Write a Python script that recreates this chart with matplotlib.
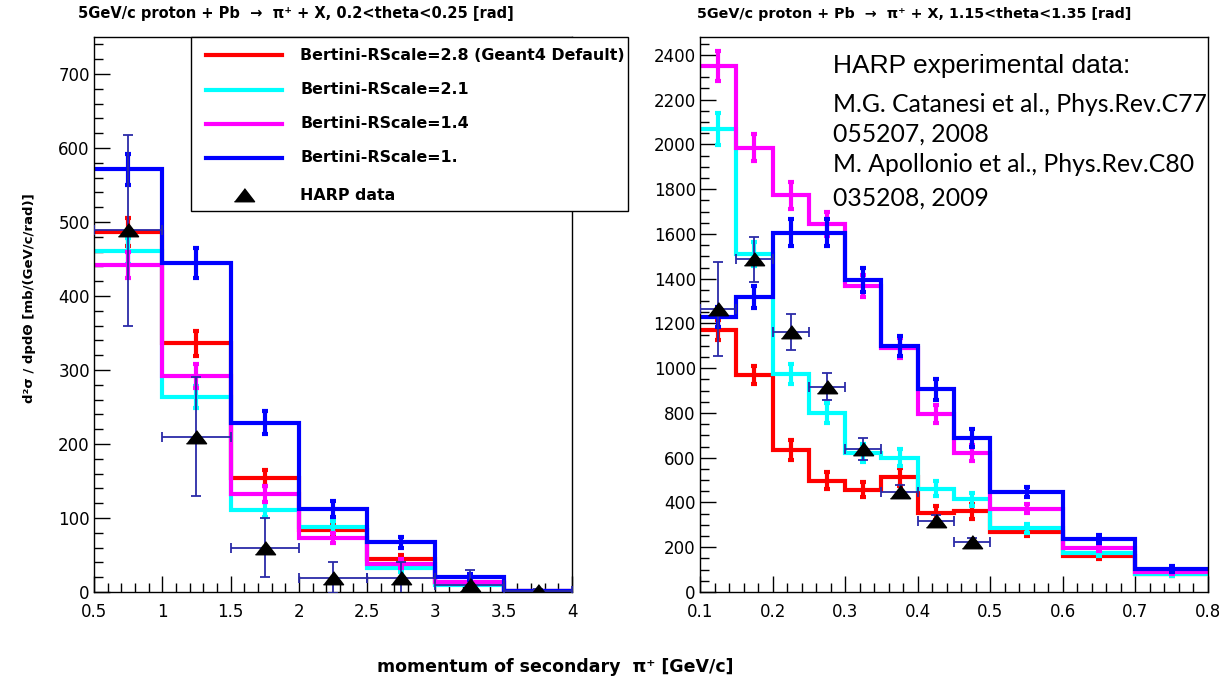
import matplotlib
matplotlib.use("Agg")
import matplotlib.pyplot as plt
from matplotlib.lines import Line2D
from matplotlib.patches import Rectangle
from matplotlib.ticker import MultipleLocator

# ---------------- data ----------------
edges_left = [0.5, 1.0, 1.5, 2.0, 2.5, 3.0, 3.5, 4.0]
red_left = [487, 336, 154, 84, 44, 12, 1]
cyan_left = [461, 264, 111, 88, 32, 10, 1]
magenta_left = [442, 292, 132, 73, 38, 14, 1]
blue_left = [571, 445, 229, 112, 67, 20, 1]
red_left_err = [19, 17, 11, 8, 6, 4, 1]
cyan_left_err = [18, 15, 10, 8, 5, 3, 1]
magenta_left_err = [18, 16, 11, 7, 6, 4, 1]
blue_left_err = [21, 20, 15, 11, 8, 4, 1]

harp_left_x = [0.75, 1.25, 1.75, 2.25, 2.75, 3.25, 3.75]
harp_left_y = [489, 210, 60, 19, 19, 10, 2]
harp_left_yerr = [129, 80, 40, 21, 22, 20, 2]
harp_left_xerr = [0.25, 0.25, 0.25, 0.25, 0.25, 0.25, 0.25]

edges_right = [0.1, 0.15, 0.2, 0.25, 0.3, 0.35, 0.4, 0.45, 0.5, 0.6, 0.7, 0.8]
red_right = [1170, 970, 635, 497, 458, 515, 353, 360, 268, 161, 80]
cyan_right = [2070, 1510, 975, 800, 620, 600, 462, 414, 285, 173, 79]
magenta_right = [2350, 1985, 1772, 1645, 1368, 1092, 797, 620, 371, 198, 88]
blue_right = [1230, 1318, 1605, 1605, 1395, 1100, 905, 690, 448, 235, 103]
red_right_err = [45, 40, 45, 37, 35, 40, 32, 32, 18, 12, 8]
cyan_right_err = [71, 55, 45, 45, 40, 37, 32, 30, 20, 14, 8]
magenta_right_err = [67, 60, 60, 55, 50, 45, 40, 35, 20, 14, 8]
blue_right_err = [45, 50, 60, 60, 55, 45, 48, 40, 22, 18, 13]

harp_right_x = [0.125, 0.175, 0.225, 0.275, 0.325, 0.375, 0.425, 0.475]
harp_right_y = [1265, 1487, 1163, 918, 639, 448, 319, 222]
harp_right_yerr = [210, 100, 80, 60, 50, 30, 25, 20]
harp_right_xerr = [0.025] * 8

legend_labels = ["Bertini-RScale=2.8 (Geant4 Default)", "Bertini-RScale=2.1",
                 "Bertini-RScale=1.4", "Bertini-RScale=1.", "HARP data"]
colors = ["#ff0000", "#00ffff", "#ff00ff", "#0000ff"]

title_left = "5GeV/c proton + Pb  \u2192  \u03c0\u207a + X, 0.2<theta<0.25 [rad]"
title_right = "5GeV/c proton + Pb  \u2192  \u03c0\u207a + X, 1.15<theta<1.35 [rad]"
xlabel = "momentum of secondary  \u03c0\u207a [GeV/c]"
ylabel = "d\u00b2\u03c3 / dpd\u0398 [mb/(GeV/c/rad)]"
harp_lines = ["M.G. Catanesi et al., Phys.Rev.C77", "055207, 2008",
              "M. Apollonio et al., Phys.Rev.C80", "035208, 2009"]

# ---------------- figure ----------------
W, H = 1222, 679
fig = plt.figure(figsize=(W / 100, H / 100), dpi=100)
fig.patch.set_facecolor("white")
FONT = "DejaVu Sans"


def px_axes(x0, y0, x1, y1):
    return fig.add_axes([x0 / W, 1 - y1 / H, (x1 - x0) / W, (y1 - y0) / H])


axL = px_axes(94, 37, 572, 592)
axR = px_axes(700, 37, 1208, 592)

tri = [(-1.0, -0.62), (1.0, -0.62), (0.0, 0.68)]
err_col = "#2b2ba8"


def draw(ax, edges, series, errs, hx, hy, hxe, hye):
    centers = [(a + b) / 2 for a, b in zip(edges[:-1], edges[1:])]
    for vals, e, c in zip(series, errs, colors):
        ax.stairs(vals, edges, baseline=None, color=c, lw=3.0, zorder=2)
        ax.errorbar(centers, vals, yerr=e, fmt="none", ecolor=c, elinewidth=3.0,
                    capsize=2.5, capthick=3.0, zorder=2)
    ax.errorbar(hx, hy, xerr=hxe, yerr=hye, fmt="none", ecolor=err_col,
                elinewidth=1.3, capsize=3.5, capthick=1.3, zorder=3)
    ax.plot(hx, hy, ls="none", marker=tri, ms=14.5, color="black", zorder=4)
    for sp in ax.spines.values():
        sp.set_linewidth(1.0)
        sp.set_color("black")
    ax.tick_params(which="both", direction="in", top=False, right=False,
                   width=1.0, labelsize=12)
    ax.tick_params(which="major", length=11.5)
    ax.tick_params(which="minor", length=6.5)
    ax.tick_params(axis="x", pad=8)
    ax.tick_params(axis="y", pad=3)


draw(axL, edges_left, [red_left, cyan_left, magenta_left, blue_left],
     [red_left_err, cyan_left_err, magenta_left_err, blue_left_err],
     harp_left_x, harp_left_y, harp_left_xerr, harp_left_yerr)
axL.set_xlim(0.5, 4.0)
axL.set_ylim(0, 750)
axL.xaxis.set_minor_locator(MultipleLocator(0.1))
axL.yaxis.set_major_locator(MultipleLocator(100))
axL.yaxis.set_minor_locator(MultipleLocator(20))
axL.set_xticks([0.5, 1, 1.5, 2, 2.5, 3, 3.5, 4])
axL.set_xticklabels(["0.5", "1", "1.5", "2", "2.5", "3", "3.5", "4"])

draw(axR, edges_right, [red_right, cyan_right, magenta_right, blue_right],
     [red_right_err, cyan_right_err, magenta_right_err, blue_right_err],
     harp_right_x, harp_right_y, harp_right_xerr, harp_right_yerr)
axR.set_xlim(0.1, 0.8)
axR.set_ylim(0, 2480)
axR.xaxis.set_major_locator(MultipleLocator(0.1))
axR.xaxis.set_minor_locator(MultipleLocator(0.02))
axR.yaxis.set_major_locator(MultipleLocator(200))
axR.yaxis.set_minor_locator(MultipleLocator(50))

for ax in (axL, axR):
    for lab in ax.get_xticklabels() + ax.get_yticklabels():
        lab.set_family(FONT)

# ---------------- texts ----------------
def ftext(x, y, s, **kw):
    return fig.text(x / W, 1 - y / H, s, **kw)


ftext(78, 18, title_left, ha="left", va="baseline", family=FONT,
      weight="bold", fontsize=10.5)
ftext(697, 18, title_right, ha="left", va="baseline", family=FONT,
      weight="bold", fontsize=10.3)
ftext(555, 667, xlabel, ha="center", va="center", family=FONT,
      weight="bold", fontsize=12.5)
ftext(30, 298, ylabel, ha="center", va="center", rotation=90, family=FONT,
      weight="bold", fontsize=9.5)

ftext(833, 73, "HARP experimental data:", ha="left", va="baseline",
      family="Liberation Sans", fontsize=19)
for yb, s in zip([112, 142, 172, 206], harp_lines):
    ftext(833, yb, s, ha="left", va="baseline", family="Lato", fontsize=17.8)

# ---------------- legend (drawn in figure pixels) ----------------
x0, y0, x1, y1 = 191, 37, 628, 211
fig.add_artist(Rectangle((x0 / W, 1 - y1 / H), (x1 - x0) / W, (y1 - y0) / H,
                         transform=fig.transFigure, facecolor="white",
                         edgecolor="black", lw=1.0, zorder=5))
rows = [55, 90, 124, 158, 195]
for i, (yr, lab) in enumerate(zip(rows, legend_labels)):
    if i < 4:
        fig.add_artist(Line2D([206 / W, 282 / W], [1 - yr / H, 1 - yr / H],
                              transform=fig.transFigure, color=colors[i],
                              lw=3.0, zorder=6))
    else:
        fig.add_artist(Line2D([244 / W], [1 - yr / H], transform=fig.transFigure,
                              ls="none", marker=tri, ms=14.5, color="black",
                              zorder=6))
    t = ftext(300, yr, lab, ha="left", va="center", family=FONT,
              weight="bold", fontsize=11.4)
    t.set_zorder(7)

fig.savefig("out.png", dpi=100, facecolor="white")
